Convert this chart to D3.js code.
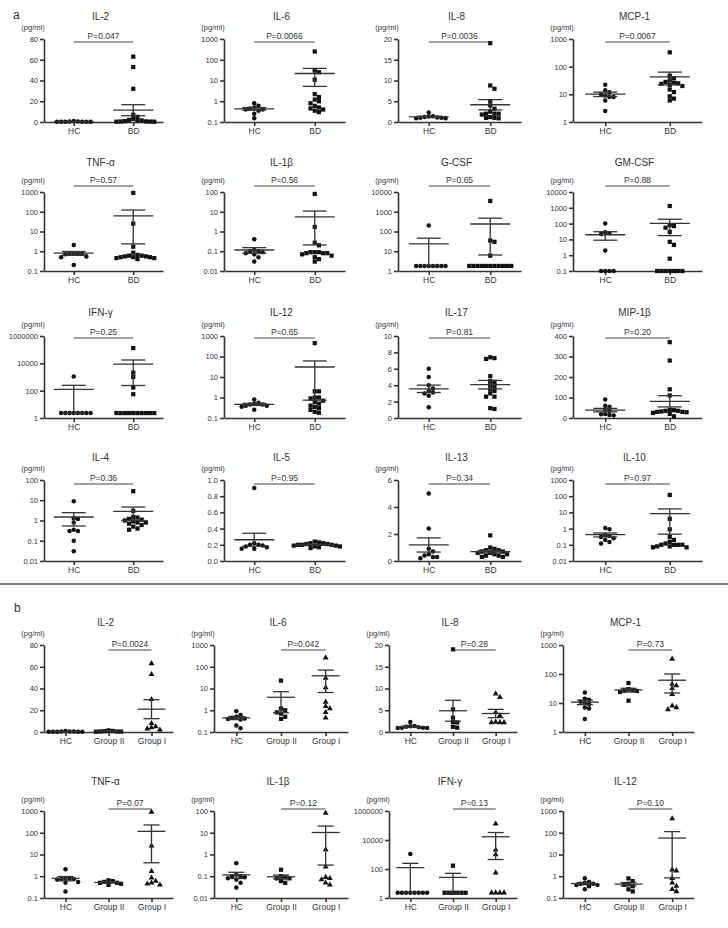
<!DOCTYPE html>
<html lang="en">
<head>
<meta charset="utf-8">
<title>Cytokine levels HC vs BD</title>
<script src="https://cdn.jsdelivr.net/npm/d3@7"></script>
<style>
body { margin: 0; background: #fff; }
svg text { font-family: "Liberation Sans", Arial, sans-serif; fill: #333; }
.axis path, .axis line { fill: none; stroke: #333; stroke-width: 1.6px; }
.axis text { font-size: 7.5px; }
.axis.x text { font-size: 8.5px; }
</style>
</head>
<body>
<script>
var W = 728, H = 928;

// ---------- panel a : HC vs BD ----------
var aNames = ["IL-2", "IL-6", "IL-8", "MCP-1", "TNF-α", "IL-1β", "G-CSF", "GM-CSF",
              "IFN-γ", "IL-12", "IL-17", "MIP-1β", "IL-4", "IL-5", "IL-13", "IL-10"];
var aP = ["P=0.047", "P=0.0066", "P=0.0036", "P=0.0067", "P=0.57", "P=0.56", "P=0.65", "P=0.88",
          "P=0.25", "P=0.65", "P=0.81", "P=0.20", "P=0.36", "P=0.95", "P=0.34", "P=0.97"];
var aTicks = [
  [0, 20, 40, 60, 80], [0.1, 1, 10, 100, 1000], [0, 5, 10, 15, 20], [1, 10, 100, 1000],
  [0.1, 1, 10, 100, 1000], [0.01, 0.1, 1, 10, 100], [1, 10, 100, 1000, 10000], [0.1, 1, 10, 100, 1000, 10000],
  [1, 100, 10000, 1000000], [0.1, 1, 10, 100, 1000], [0, 2, 4, 6, 8, 10], [0, 100, 200, 300, 400],
  [0.01, 0.1, 1, 10, 100], [0, 0.2, 0.4, 0.6, 0.8, 1.0], [0, 2, 4, 6], [0.01, 0.1, 1, 10, 100, 1000]
];
var aHC = [
  [1.0, 0.5, 0.4, 0.3, 0.3, 0.3, 0.3, 0.3, 0.3],
  [0.8, 0.6, 0.5, 0.45, 0.4, 0.4, 0.35, 0.25, 0.15],
  [2.3, 1.4, 1.3, 1.2, 1.1, 1.0, 1.0, 0.9, 0.9],
  [22, 14, 12, 10, 9, 8, 8, 6, 2.5],
  [2.1, 0.8, 0.8, 0.75, 0.75, 0.7, 0.55, 0.5, 0.2],
  [0.4, 0.12, 0.1, 0.1, 0.09, 0.08, 0.07, 0.05, 0.03],
  [200, 1.8, 1.8, 1.8, 1.8, 1.8, 1.8, 1.8, 1.8],
  [100, 28, 25, 22, 2, 0.1, 0.1, 0.1, 0.1],
  [1100, 2.3, 2.3, 2.3, 2.3, 2.3, 2.3, 2.3, 2.3],
  [0.8, 0.55, 0.5, 0.45, 0.45, 0.4, 0.4, 0.35, 0.25],
  [6.0, 5.0, 4.0, 3.6, 3.3, 3.1, 3.0, 2.7, 1.3],
  [90, 60, 55, 40, 35, 20, 18, 15, 12],
  [9, 1.3, 1.2, 0.8, 0.35, 0.3, 0.3, 0.1, 0.03],
  [0.9, 0.22, 0.2, 0.2, 0.19, 0.18, 0.17, 0.15, 0.15],
  [5.0, 2.4, 0.9, 0.7, 0.5, 0.4, 0.3, 0.3, 0.2],
  [1.1, 0.9, 0.4, 0.35, 0.3, 0.25, 0.2, 0.15, 0.12]
];
var aBD = [
  [63, 53, 32, 7, 5, 3, 2, 1.5, 1, 0.8, 0.6, 0.5, 0.4, 0.3, 0.3],
  [250, 30, 25, 11, 2.2, 1.6, 1.2, 1.0, 0.8, 0.6, 0.5, 0.45, 0.4, 0.35, 0.3],
  [19, 8.8, 8.0, 5.0, 4.0, 3.2, 2.5, 2.0, 2.0, 2.0, 1.8, 1.2, 1.0, 1.0, 0.9],
  [330, 47, 38, 32, 28, 26, 25, 24, 22, 20, 15, 12, 8.5, 7, 6],
  [900, 25, 1.7, 0.85, 0.65, 0.6, 0.6, 0.55, 0.55, 0.5, 0.5, 0.5, 0.45, 0.45, 0.4],
  [80, 1.7, 0.27, 0.2, 0.09, 0.09, 0.09, 0.08, 0.08, 0.08, 0.07, 0.06, 0.05, 0.04, 0.03],
  [3500, 35, 30, 6, 1.8, 1.8, 1.8, 1.8, 1.8, 1.8, 1.8, 1.8, 1.8, 1.8, 1.8],
  [1300, 80, 70, 55, 30, 7, 4.5, 0.6, 0.1, 0.1, 0.1, 0.1, 0.1, 0.1, 0.1],
  [130000, 2100, 1000, 170, 55, 2.3, 2.3, 2.3, 2.3, 2.3, 2.3, 2.3, 2.3, 2.3, 2.3],
  [450, 2, 2, 1, 1, 0.9, 0.7, 0.6, 0.5, 0.4, 0.35, 0.3, 0.25, 0.2, 0.18],
  [7.4, 7.3, 7.2, 5.1, 4.5, 4.4, 4.0, 3.8, 3.5, 3.3, 3.0, 2.6, 2.6, 1.2, 1.1],
  [370, 280, 140, 110, 40, 38, 35, 35, 32, 30, 30, 28, 25, 20, 8],
  [28, 3, 1.5, 1.4, 1.2, 1.1, 1.0, 0.9, 0.8, 0.8, 0.7, 0.6, 0.5, 0.4, 0.35],
  [0.24, 0.23, 0.22, 0.22, 0.21, 0.21, 0.2, 0.2, 0.2, 0.19, 0.19, 0.18, 0.18, 0.17, 0.16],
  [1.9, 1.0, 0.9, 0.8, 0.8, 0.7, 0.7, 0.6, 0.6, 0.5, 0.5, 0.4, 0.4, 0.3, 0.3],
  [120, 4, 0.9, 0.3, 0.2, 0.15, 0.12, 0.1, 0.1, 0.1, 0.1, 0.08, 0.08, 0.07, 0.07]
];

// ---------- panel b : HC vs Group II vs Group I ----------
var bNames = ["IL-2", "IL-6", "IL-8", "MCP-1", "TNF-α", "IL-1β", "IFN-γ", "IL-12"];
var bP = ["P=0.0024", "P=0.042", "P=0.28", "P=0.73", "P=0.07", "P=0.12", "P=0.13", "P=0.10"];
var bTicks = [
  [0, 20, 40, 60, 80], [0.1, 1, 10, 100, 1000], [0, 5, 10, 15, 20], [1, 10, 100, 1000],
  [0.1, 1, 10, 100, 1000], [0.01, 0.1, 1, 10, 100], [1, 100, 10000, 1000000], [0.1, 1, 10, 100, 1000]
];
var bHC = [
  [1.0, 0.5, 0.4, 0.4, 0.3, 0.3, 0.3, 0.3, 0.3],
  [0.9, 0.6, 0.5, 0.45, 0.42, 0.4, 0.38, 0.2, 0.15],
  [2.3, 1.4, 1.3, 1.2, 1.1, 1.0, 1.0, 0.9, 0.9],
  [23, 14, 13, 11, 10, 9, 7, 6.5, 2.8],
  [2.1, 0.8, 0.8, 0.75, 0.75, 0.7, 0.55, 0.5, 0.2],
  [0.4, 0.12, 0.1, 0.1, 0.09, 0.08, 0.07, 0.05, 0.03],
  [1100, 2.3, 2.3, 2.3, 2.3, 2.3, 2.3, 2.3, 2.3],
  [0.8, 0.55, 0.5, 0.45, 0.45, 0.4, 0.4, 0.35, 0.25]
];
var bG2 = [
  [1.5, 1.0, 0.8, 0.5, 0.5, 0.4, 0.3],
  [23, 1.2, 1.0, 0.8, 0.7, 0.5, 0.4],
  [19, 5.2, 3.3, 2.3, 2.2, 1.2, 1.0],
  [49, 30, 28, 27, 26, 24, 12],
  [0.65, 0.6, 0.55, 0.5, 0.5, 0.45, 0.4],
  [0.2, 0.1, 0.09, 0.08, 0.08, 0.06, 0.05],
  [170, 2.3, 2.3, 2.3, 2.3, 2.3, 2.3],
  [0.8, 0.6, 0.45, 0.4, 0.35, 0.25, 0.2]
];
var bG1 = [
  [63, 53, 30, 8, 5, 4, 3, 2],
  [260, 30, 11, 2.4, 1.5, 1.2, 0.8, 0.45],
  [8.8, 8.0, 4.5, 3.8, 2.2, 2.2, 2.2, 2.3],
  [330, 45, 40, 32, 20, 8, 7, 6],
  [900, 25, 1.7, 0.85, 0.6, 0.5, 0.45, 0.4],
  [80, 1.7, 0.27, 0.09, 0.08, 0.07, 0.05, 0.04],
  [130000, 2100, 1000, 55, 2.3, 2.3, 2.3, 2.3],
  [450, 2, 1.8, 0.8, 0.5, 0.35, 0.25, 0.2]
];

// ---------- layout ----------
var aLeft = [44, 224, 398, 573], aWidth = [119, 121, 123, 129];
var aTop = [39, 192, 336, 480], aBottom = [122, 271, 418, 561];
var aTitleY = [20, 166, 316, 461], aBr = [3, -6, 2, 4];
var bLeft = [44, 214, 389, 563], bWidth = [129, 134, 128, 131];
var bTop = [645, 811], bBottom = [732, 898];
var bTitleY = [626, 785], bBr = [5, -2];

var svg = d3.select("body").append("svg")
    .attr("width", W)
    .attr("height", H);

// simple beeswarm so the dots sit side by side like the original
function swarm(vals, y, cx, s) {
    var pts = vals.map(function(v) { return {v: v, y: y(v)}; })
        .sort(function(a, b) { return a.y - b.y; });
    var placed = [];
    pts.forEach(function(p) {
        for (var k = 0; k < 60; k++) {
            var off = (k % 2 === 1 ? 1 : -1) * Math.ceil(k / 2) * s;
            var hit = placed.some(function(q) {
                var dx = q.x - (cx + off), dy = q.y - p.y;
                return dx * dx + dy * dy < s * s * 0.95;
            });
            if (!hit) { p.x = cx + off; break; }
        }
        placed.push(p);
    });
    return placed;
}

function drawPanel(o) {
    var isLog = o.ticks[0] > 0;
    var dom = [o.ticks[0], o.ticks[o.ticks.length - 1]];
    var y = (isLog ? d3.scaleLog() : d3.scaleLinear()).domain(dom).range([o.bottom, o.top]);
    var x = d3.scalePoint().domain(o.groups).range([o.left, o.left + o.width]).padding(0.5);
    var fmt = (!isLog && o.ticks[1] - o.ticks[0] < 1) ? d3.format(".1f") : function(d) { return String(d); };

    svg.append("g").attr("class", "axis")
        .attr("transform", "translate(" + o.left + ",0)")
        .call(d3.axisLeft(y).tickValues(o.ticks).tickFormat(fmt).tickSize(4).tickSizeOuter(0).tickPadding(2));
    svg.append("g").attr("class", "axis x")
        .attr("transform", "translate(0," + o.bottom + ")")
        .call(d3.axisBottom(x).tickSize(4).tickSizeOuter(0).tickPadding(2));

    // title and unit
    svg.append("text").attr("x", o.left + o.width / 2 - 3).attr("y", o.titleY)
        .attr("text-anchor", "middle").attr("font-size", 10).text(o.name);
    svg.append("text").attr("x", o.left - 11).attr("y", o.top - 9)
        .attr("text-anchor", "middle").attr("font-size", 7.5).text("(pg/ml)");

    // P-value bracket
    var x1 = x(o.groups[o.brFrom]), x2 = x(o.groups[o.groups.length - 1]);
    svg.append("line").attr("x1", x1).attr("x2", x2).attr("y1", o.brY).attr("y2", o.brY)
        .attr("stroke", "#444").attr("stroke-width", 1.2);
    svg.append("text").attr("x", (x1 + x2) / 2).attr("y", o.brY - 3)
        .attr("text-anchor", "middle").attr("font-size", 8.5).text(o.p);

    var clampY = function(v) {
        if (v <= dom[0]) return y(dom[0]);
        if (v >= dom[1]) return y(dom[1]);
        return y(v);
    };

    o.data.forEach(function(vals, gi) {
        var cx = x(o.groups[gi]);
        var pts = swarm(vals, y, cx, o.spread);
        var sym = d3.symbol().type(o.shapes[gi]).size(o.sizes[gi]);
        svg.append("g").selectAll("path").data(pts).enter().append("path")
            .attr("d", sym)
            .attr("transform", function(d) { return "translate(" + d.x + "," + d.y + ")"; })
            .attr("fill", "#111");

        // mean and SEM
        var m = d3.mean(vals), se = d3.deviation(vals) / Math.sqrt(vals.length);
        var g = svg.append("g").attr("stroke", "#333").attr("stroke-width", 1.3);
        g.append("line").attr("x1", cx).attr("x2", cx)
            .attr("y1", clampY(m - se)).attr("y2", clampY(m + se));
        g.append("line").attr("x1", cx - o.meanHalf).attr("x2", cx + o.meanHalf)
            .attr("y1", y(m)).attr("y2", y(m));
        [m + se, m - se].forEach(function(v) {
            if (v <= dom[0]) return;
            g.append("line").attr("x1", cx - o.capHalf).attr("x2", cx + o.capHalf)
                .attr("y1", y(v)).attr("y2", y(v));
        });
    });
}

aNames.forEach(function(name, i) {
    var r = Math.floor(i / 4), c = i % 4;
    drawPanel({
        name: name, p: aP[i], ticks: aTicks[i],
        groups: ["HC", "BD"], data: [aHC[i], aBD[i]],
        shapes: [d3.symbolCircle, d3.symbolSquare], sizes: [16, 18],
        left: aLeft[c], width: aWidth[c], top: aTop[r], bottom: aBottom[r],
        titleY: aTitleY[r], brY: aTop[r] + aBr[r], brFrom: 0,
        meanHalf: 20, capHalf: 12, spread: 4.2
    });
});

bNames.forEach(function(name, i) {
    var r = Math.floor(i / 4), c = i % 4;
    drawPanel({
        name: name, p: bP[i], ticks: bTicks[i],
        groups: ["HC", "Group II", "Group I"], data: [bHC[i], bG2[i], bG1[i]],
        shapes: [d3.symbolCircle, d3.symbolSquare, d3.symbolTriangle], sizes: [16, 18, 15],
        left: bLeft[c], width: bWidth[c], top: bTop[r], bottom: bBottom[r],
        titleY: bTitleY[r], brY: bTop[r] + bBr[r], brFrom: 1,
        meanHalf: 14, capHalf: 8, spread: 4.2
    });
});

// panel letters and separator
svg.append("text").attr("x", 13).attr("y", 19).attr("font-size", 12).attr("fill", "#444").text("a");
svg.append("text").attr("x", 14).attr("y", 612).attr("font-size", 12).attr("fill", "#444").text("b");
svg.append("line").attr("x1", 0).attr("x2", W).attr("y1", 584).attr("y2", 584)
    .attr("stroke", "#555").attr("stroke-width", 1.5);
</script>
</body>
</html>
